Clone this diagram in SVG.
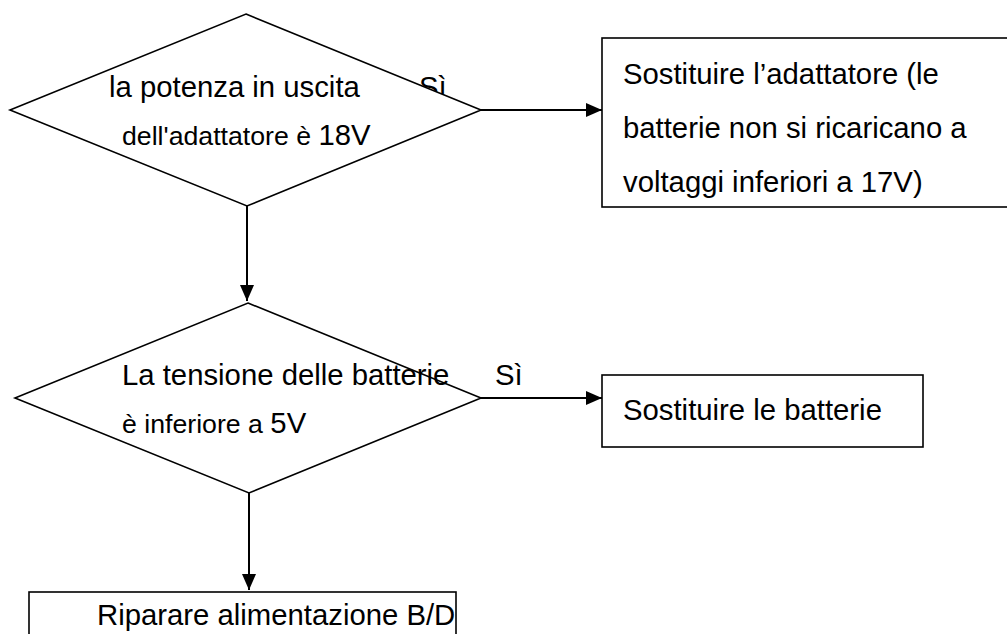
<svg xmlns="http://www.w3.org/2000/svg" width="1007" height="634" viewBox="0 0 1007 634">
<style>
.shape{fill:#fff;stroke:#000;stroke-width:1.6}
.conn{stroke:#000;stroke-width:2;fill:none}
text{font-family:"Liberation Sans",Arial,sans-serif;fill:#000;font-size:29.3px}
.small{font-size:26.7px}
</style>
<defs>
<marker id="ah" markerUnits="userSpaceOnUse" markerWidth="16" markerHeight="14" refX="16" refY="7" orient="auto">
<path d="M0,0 L16,7 L0,14 Z" fill="#000"/>
</marker>
</defs>
<rect width="1007" height="634" fill="#fff"/>
<g id="connectors">
<line class="conn" x1="481" y1="110" x2="602" y2="110" marker-end="url(#ah)"/>
<line class="conn" x1="247" y1="206" x2="247" y2="301" marker-end="url(#ah)"/>
<line class="conn" x1="481" y1="398" x2="602" y2="398" marker-end="url(#ah)"/>
<line class="conn" x1="249" y1="493" x2="249" y2="590" marker-end="url(#ah)"/>
<text x="419" y="97">Sì</text>
<text x="495" y="385">Sì</text>
</g>
<g id="decision1">
<polygon class="shape" points="246,14 481,110 247,206 10,110"/>
<text x="109" y="97">la potenza in uscita</text>
<text x="122" y="145"><tspan class="small">dell'adattatore è </tspan>18V</text>
</g>
<g id="box1">
<rect class="shape" x="602" y="38" width="420" height="169"/>
<text x="623" y="84">Sostituire l’adattatore (le</text>
<text x="623" y="138">batterie non si ricaricano a</text>
<text x="623" y="192">voltaggi inferiori a 17V)</text>
</g>
<g id="decision2">
<polygon class="shape" points="248,303 481,398 249,493 15,398"/>
<text x="122" y="385">La tensione delle batterie</text>
<text x="122" y="433"><tspan class="small">è inferiore a </tspan>5V</text>
</g>
<g id="box2">
<rect class="shape" x="602" y="375" width="321" height="72"/>
<text x="623" y="420">Sostituire le batterie</text>
</g>
<g id="box3">
<rect class="shape" x="29" y="592" width="427" height="60"/>
<text x="97" y="625">Riparare alimentazione B/D</text>
</g>
</svg>
